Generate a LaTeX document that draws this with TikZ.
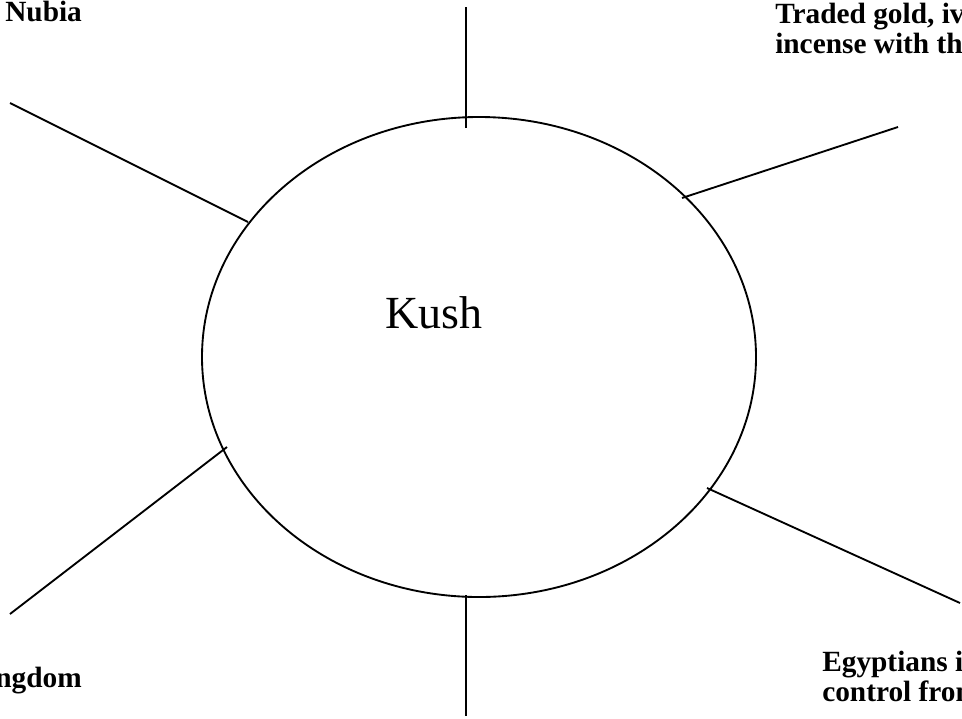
\documentclass[tikz,border=0pt]{standalone}
\usepackage{fontspec}
\setmainfont{Liberation Serif}
\usetikzlibrary{shapes.geometric}
\begin{document}
\begin{tikzpicture}[x=0.75pt,y=-0.75pt,
    spoke/.style={line width=1.4pt},
    fact/.style={font=\fontsize{22}{22.5}\selectfont\bfseries, align=left, inner sep=0pt}]
      \useasboundingbox (0,0) rectangle (962,718);
      \clip (0,0) rectangle (962,718);

      % Central oval
      \node[ellipse, draw, line width=1.4pt, minimum width=415.5pt, minimum height=360pt, inner sep=0pt] (kush) at (479,357) {};
      \node[anchor=base west, inner sep=0pt, font=\fontsize{34.5}{40}\selectfont] (kushlabel) at (385,328) {Kush};

      % Spoke ends
      \coordinate (topIn) at (466,128);      \coordinate (topOut) at (466,7);
      \coordinate (urIn) at (682,198);       \coordinate (urOut) at (898,127);
      \coordinate (lrIn) at (707,488);       \coordinate (lrOut) at (960,603);
      \coordinate (botIn) at (466,595);      \coordinate (botOut) at (466,716);
      \coordinate (llIn) at (227,447);       \coordinate (llOut) at (10,614);
      \coordinate (ulIn) at (248,222);       \coordinate (ulOut) at (10,103);

      \draw[spoke] (topIn) -- (topOut);
      \draw[spoke] (urIn) -- (urOut);
      \draw[spoke] (lrIn) -- (lrOut);
      \draw[spoke] (botIn) -- (botOut);
      \draw[spoke] (llIn) -- (llOut);
      \draw[spoke] (ulIn) -- (ulOut);

      % Facts (base = last line)
      \node[fact, anchor=base west] (nubia) at (5,21) {Nubia};
      \node[fact, anchor=base west] (trade) at (775,53) {Traded gold, ivory,\\incense with the};
      \node[fact, anchor=base east] (kingdom) at (82,687) {Kingdom};
      \node[fact, anchor=base west] (egypt) at (822,701) {Egyptians in\\control from};
    \end{tikzpicture}
\end{document}
